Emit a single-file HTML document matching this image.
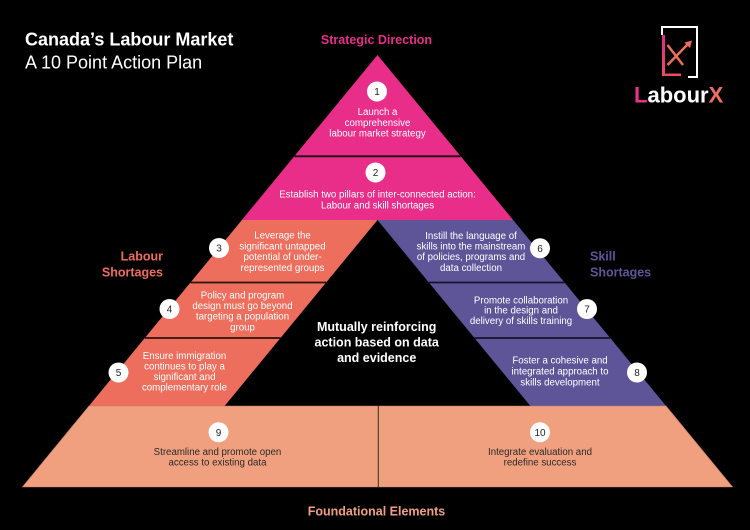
<!DOCTYPE html>
<html><head><meta charset="utf-8"><style>
html,body{margin:0;padding:0;background:#000;}
svg{display:block;}
text{font-family:"Liberation Sans",Arial,sans-serif;}
.w{fill:#fff;font-size:9.7px;text-anchor:middle;}
.d{fill:#2a2a2a;font-size:9.7px;text-anchor:middle;}
.n{fill:#222;font-size:10px;text-anchor:middle;}
.b{font-weight:bold;font-size:12.5px;}
</style></head><body>
<svg width="750" height="530" viewBox="0 0 750 530" xmlns="http://www.w3.org/2000/svg">
<defs>
<linearGradient id="lg" x1="0" y1="0" x2="0" y2="1">
<stop offset="0" stop-color="#e0288c"/><stop offset="1" stop-color="#ec4f5c"/>
</linearGradient>
</defs>
<rect width="750" height="530" fill="#000"/>

<!-- Title -->
<text x="25" y="45.3" font-weight="bold" font-size="18" fill="#fff">Canada’s Labour Market</text>
<text x="25" y="68.7" font-size="18" fill="#fff">A 10 Point Action Plan</text>

<!-- Logo -->
<path d="M662,35 V27 H697 V77 H688" fill="none" stroke="#fff" stroke-width="2"/>
<rect x="662" y="35" width="3" height="41" fill="url(#lg)"/>
<rect x="662" y="73.5" width="19" height="2.5" fill="#ec4a5e"/>
<line x1="667.5" y1="45" x2="683" y2="65" stroke="#ee6e5d" stroke-width="2.5"/>
<line x1="667.5" y1="65" x2="688" y2="44" stroke="#ee6e5d" stroke-width="2.5"/>
<polygon points="692,40.5 684.5,42.5 690,48" fill="#ee6e5d"/>
<text x="634" y="102.3" font-weight="bold" font-size="22" fill="#fff"><tspan fill="#e7338a">L</tspan>abour<tspan fill="#ee7060">X</tspan></text>

<!-- Strategic Direction -->
<text x="376.5" y="44" class="b" text-anchor="middle" fill="#e92e89">Strategic Direction</text>

<!-- Pink triangle -->
<polygon points="377.5,55 513.1,220 241.9,220" fill="#e92e89"/>
<line x1="294.5" y1="156.3" x2="460.5" y2="156.3" stroke="#1a0a12" stroke-width="1.8"/>

<!-- Orange parallelogram -->
<polygon points="241.9,220 377.5,220 224.6,406 88.9,406" fill="#ee6e5d"/>
<line x1="190.5" y1="282.5" x2="326.1" y2="282.5" stroke="#2a1412" stroke-width="1.8"/>
<line x1="144.9" y1="338" x2="280.5" y2="338" stroke="#2a1412" stroke-width="1.8"/>

<!-- Purple parallelogram -->
<polygon points="377.5,220 513.1,220 666.1,406 530.4,406" fill="#5e5599"/>
<line x1="428.9" y1="282.5" x2="564.5" y2="282.5" stroke="#15132a" stroke-width="1.8"/>
<line x1="474.5" y1="338" x2="610.1" y2="338" stroke="#15132a" stroke-width="1.8"/>

<!-- Bottom band -->
<polygon points="88.9,406 666.1,406 732.6,487 22.4,487" fill="#f0a07f" stroke="#c47a63" stroke-width="0.6"/>
<line x1="378.3" y1="406" x2="378.3" y2="487" stroke="#3a2a25" stroke-width="1"/>

<!-- Labels -->
<text x="163" y="260.5" class="b" text-anchor="end" fill="#ee6e5d">Labour</text>
<text x="163" y="276.3" class="b" text-anchor="end" fill="#ee6e5d">Shortages</text>
<text x="590" y="260.5" class="b" fill="#5e5599">Skill</text>
<text x="590" y="276.3" class="b" fill="#5e5599">Shortages</text>

<text x="376.7" y="331" class="b" text-anchor="middle" fill="#fff">Mutually reinforcing</text>
<text x="376.7" y="346.6" class="b" text-anchor="middle" fill="#fff">action based on data</text>
<text x="376.7" y="361.8" class="b" text-anchor="middle" fill="#fff">and evidence</text>

<text x="376.5" y="515.3" class="b" text-anchor="middle" fill="#f0a07f">Foundational Elements</text>

<!-- 1 -->
<circle cx="377" cy="91.5" r="10" fill="#fff"/>
<text x="377" y="95" class="n">1</text>
<text x="377.5" y="115" class="w">Launch a</text>
<text x="377.5" y="125.8" class="w">comprehensive</text>
<text x="377.5" y="136.6" class="w">labour market strategy</text>

<!-- 2 -->
<circle cx="375.5" cy="172.5" r="10" fill="#fff"/>
<text x="375.5" y="176" class="n">2</text>
<text x="377.5" y="197.6" class="w">Establish two pillars of inter-connected action:</text>
<text x="377.5" y="208.4" class="w">Labour and skill shortages</text>

<!-- 3 -->
<circle cx="219" cy="248" r="10" fill="#fff"/>
<text x="219" y="251.5" class="n">3</text>
<text x="282.5" y="238.5" class="w">Leverage the</text>
<text x="282.5" y="249.6" class="w">significant untapped</text>
<text x="282.5" y="260.1" class="w">potential of under-</text>
<text x="282.5" y="271.1" class="w">represented groups</text>

<!-- 4 -->
<circle cx="169.5" cy="309" r="10" fill="#fff"/>
<text x="169.5" y="312.5" class="n">4</text>
<text x="242.5" y="298.4" class="w">Policy and program</text>
<text x="242.5" y="309.1" class="w">design must go beyond</text>
<text x="242.5" y="319.7" class="w">targeting a population</text>
<text x="242.5" y="330.4" class="w">group</text>

<!-- 5 -->
<circle cx="118.5" cy="372.5" r="10" fill="#fff"/>
<text x="118.5" y="376" class="n">5</text>
<text x="184.5" y="359.1" class="w">Ensure immigration</text>
<text x="184.5" y="369.7" class="w">continues to play a</text>
<text x="184.5" y="380.1" class="w">significant and</text>
<text x="184.5" y="390.7" class="w">complementary role</text>

<!-- 6 -->
<circle cx="540" cy="248.3" r="10" fill="#fff"/>
<text x="540" y="251.8" class="n">6</text>
<text x="471" y="239.1" class="w">Instill the language of</text>
<text x="471" y="249.4" class="w">skills into the mainstream</text>
<text x="471" y="260.1" class="w">of policies, programs and</text>
<text x="471" y="271.1" class="w">data collection</text>

<!-- 7 -->
<circle cx="587" cy="309" r="10" fill="#fff"/>
<text x="587" y="312.5" class="n">7</text>
<text x="521" y="303.4" class="w">Promote collaboration</text>
<text x="521" y="313.4" class="w">in the design and</text>
<text x="521" y="323.9" class="w">delivery of skills training</text>

<!-- 8 -->
<circle cx="637" cy="372.5" r="10" fill="#fff"/>
<text x="637" y="376" class="n">8</text>
<text x="560" y="363.7" class="w">Foster a cohesive and</text>
<text x="560" y="374.4" class="w">integrated approach to</text>
<text x="560" y="385.4" class="w">skills development</text>

<!-- 9 -->
<circle cx="218.5" cy="432.3" r="10" fill="#fff"/>
<text x="218.5" y="435.8" class="n">9</text>
<text x="217.5" y="455.1" class="d">Streamline and promote open</text>
<text x="217.5" y="465.7" class="d">access to existing data</text>

<!-- 10 -->
<circle cx="540" cy="432.3" r="10" fill="#fff"/>
<text x="540" y="435.8" class="n">10</text>
<text x="540" y="455.1" class="d">Integrate evaluation and</text>
<text x="540" y="465.7" class="d">redefine success</text>
</svg>
</body></html>
